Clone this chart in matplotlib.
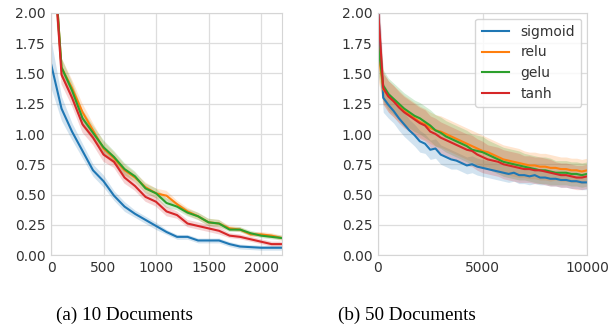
import numpy as np
import matplotlib.pyplot as plt

# ---- data: 10 documents (left panel)
steps_a = [0, 100, 200, 300, 400, 500, 600, 700, 800, 900, 1000, 1100,
           1200, 1300, 1400, 1500, 1600, 1700, 1800, 1900, 2000, 2100, 2200]
sigmoid_a = [1.58, 1.21, 1.02, 0.86, 0.70, 0.61, 0.49, 0.40, 0.34, 0.29, 0.24, 0.19,
             0.15, 0.15, 0.12, 0.12, 0.12, 0.09, 0.07, 0.065, 0.06, 0.06, 0.06]
relu_a = [2.8, 1.55, 1.38, 1.18, 1.03, 0.88, 0.80, 0.70, 0.64, 0.56, 0.51, 0.49,
          0.42, 0.36, 0.32, 0.27, 0.26, 0.22, 0.21, 0.17, 0.17, 0.16, 0.14]
gelu_a = [2.8, 1.55, 1.36, 1.13, 1.01, 0.89, 0.81, 0.71, 0.65, 0.55, 0.51, 0.43,
          0.40, 0.35, 0.32, 0.27, 0.26, 0.21, 0.21, 0.18, 0.16, 0.15, 0.14]
tanh_a = [2.8, 1.49, 1.30, 1.08, 0.97, 0.83, 0.77, 0.64, 0.57, 0.48, 0.44, 0.36,
          0.33, 0.26, 0.24, 0.22, 0.20, 0.16, 0.15, 0.13, 0.11, 0.09, 0.09]
spread_sig_a = [0.20, 0.10, 0.07, 0.06, 0.05, 0.05, 0.04, 0.04, 0.03, 0.03, 0.03, 0.02,
                0.02, 0.02, 0.02, 0.02, 0.02, 0.02, 0.02, 0.02, 0.02, 0.02, 0.02]
spread_other_a = [0.3, 0.08, 0.07, 0.07, 0.06, 0.06, 0.05, 0.05, 0.04, 0.04, 0.04, 0.04,
                  0.03, 0.03, 0.03, 0.03, 0.03, 0.02, 0.02, 0.02, 0.02, 0.02, 0.02]

# ---- data: 50 documents (right panel), every 250 steps
steps_b = list(range(0, 10001, 250))
sigmoid_b = [2.05, 1.30, 1.24, 1.19, 1.13, 1.08, 1.03, 0.99, 0.94, 0.92, 0.87,
             0.88, 0.83, 0.81, 0.79, 0.78, 0.76, 0.74, 0.75, 0.73, 0.72, 0.71,
             0.70, 0.69, 0.68, 0.67, 0.68, 0.66, 0.66, 0.65, 0.66, 0.64, 0.64,
             0.63, 0.63, 0.62, 0.62, 0.61, 0.61, 0.60, 0.60]
relu_b = [1.70, 1.37, 1.31, 1.27, 1.23, 1.19, 1.16, 1.13, 1.10, 1.08, 1.05,
          1.03, 1.02, 1.00, 0.98, 0.96, 0.94, 0.92, 0.90, 0.88, 0.86, 0.85,
          0.83, 0.81, 0.79, 0.78, 0.77, 0.76, 0.75, 0.74, 0.74, 0.73, 0.73,
          0.72, 0.72, 0.71, 0.71, 0.70, 0.70, 0.69, 0.70]
gelu_b = [1.75, 1.40, 1.33, 1.29, 1.25, 1.21, 1.18, 1.15, 1.13, 1.10, 1.07,
          1.03, 1.01, 0.98, 0.96, 0.94, 0.92, 0.90, 0.87, 0.86, 0.85, 0.83,
          0.81, 0.79, 0.77, 0.76, 0.75, 0.74, 0.73, 0.72, 0.71, 0.70, 0.70,
          0.69, 0.68, 0.68, 0.68, 0.67, 0.67, 0.66, 0.67]
tanh_b = [2.05, 1.38, 1.31, 1.27, 1.22, 1.18, 1.15, 1.12, 1.09, 1.07, 1.02,
          1.00, 0.97, 0.95, 0.93, 0.91, 0.89, 0.87, 0.86, 0.83, 0.81, 0.79,
          0.78, 0.77, 0.75, 0.74, 0.73, 0.72, 0.71, 0.71, 0.70, 0.70, 0.69,
          0.68, 0.67, 0.66, 0.66, 0.65, 0.64, 0.64, 0.65]
spread_sig_b = [0.25, 0.12, 0.11, 0.10, 0.10, 0.10, 0.09, 0.09, 0.09, 0.08, 0.08,
                0.08, 0.08, 0.08, 0.08, 0.07, 0.07, 0.07, 0.07, 0.07, 0.07, 0.07,
                0.07, 0.07, 0.07, 0.07, 0.07, 0.07, 0.07, 0.07, 0.07, 0.06, 0.06,
                0.06, 0.06, 0.06, 0.06, 0.06, 0.06, 0.06, 0.06]
spread_other_b = [0.25, 0.13, 0.13, 0.13, 0.13, 0.13, 0.13, 0.13, 0.13, 0.13, 0.13,
                  0.13, 0.13, 0.13, 0.13, 0.13, 0.13, 0.13, 0.13, 0.13, 0.13, 0.12,
                  0.12, 0.12, 0.12, 0.12, 0.12, 0.12, 0.11, 0.11, 0.11, 0.11, 0.11,
                  0.11, 0.10, 0.10, 0.10, 0.10, 0.10, 0.10, 0.10]

labels = ['sigmoid', 'relu', 'gelu', 'tanh']
colors = ['#1f77b4', '#ff7f0e', '#2ca02c', '#d62728']

fig = plt.figure(figsize=(6.08, 3.35), dpi=100)
ax1 = fig.add_axes([0.0839, 0.2388, 0.380, 0.7224])
ax2 = fig.add_axes([0.6217, 0.2388, 0.3438, 0.7224])


def draw(ax, x, series, spreads):
    x = np.array(x)
    for lab, col, y, s in zip(labels, colors, series, spreads):
        y = np.array(y)
        s = np.array(s)
        ax.fill_between(x, y - s, y + s, color=col, alpha=0.2, linewidth=0)
        ax.plot(x, y, color=col, lw=1.5, label=lab)
    ax.set_ylim(0, 2.0)
    ax.set_yticks(np.arange(0, 2.01, 0.25))
    ax.grid(True, color='#dddddd', lw=0.9)
    ax.set_axisbelow(True)
    for sp in ax.spines.values():
        sp.set_color('#d5d5d5')
    ax.tick_params(length=0, labelsize=10, colors='#333333', pad=4)


draw(ax1, steps_a, [sigmoid_a, relu_a, gelu_a, tanh_a],
     [spread_sig_a, spread_other_a, spread_other_a, spread_other_a])
ax1.set_xlim(0, 2200)
ax1.set_xticks([0, 500, 1000, 1500, 2000])

draw(ax2, steps_b, [sigmoid_b, relu_b, gelu_b, tanh_b],
     [spread_sig_b, spread_other_b, spread_other_b, spread_other_b])
ax2.set_xlim(0, 10000)
ax2.set_xticks([0, 5000, 10000])
leg = ax2.legend(loc='upper right', fontsize=10, frameon=True, borderpad=0.45,
                 handlelength=2.0, labelspacing=0.48, borderaxespad=0.4)
leg.get_frame().set_edgecolor('#cccccc')
for t in leg.get_texts():
    t.set_color('#333333')

fig.text(0.204, 0.06, '(a) 10 Documents', ha='center', va='center',
         family='Liberation Serif', fontsize=13.8)
fig.text(0.669, 0.06, '(b) 50 Documents', ha='center', va='center',
         family='Liberation Serif', fontsize=13.8)

fig.savefig('out.png', dpi=100)
